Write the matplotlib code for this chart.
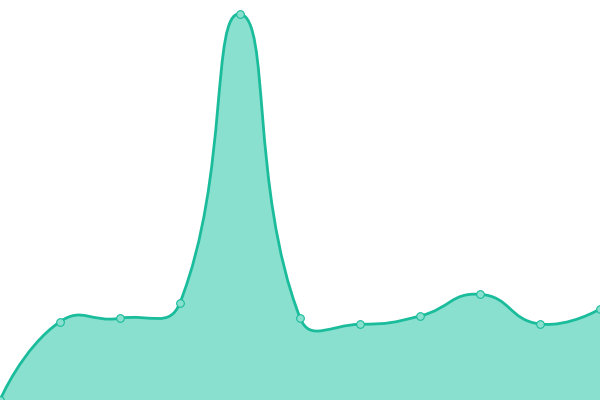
import matplotlib
matplotlib.use("Agg")
import matplotlib.pyplot as plt
import numpy as np
from matplotlib.path import Path
from matplotlib.patches import PathPatch

# category positions (no visible axis) and series values
categories = ["A", "B", "C", "D", "E", "F", "G", "H", "I", "J", "K"]
values = [0, 783, 817, 973, 3860, 823, 757, 840, 1057, 760, 910]

line_color = "#1abc9c"
fill_color = "#8ae0ce"
smooth = 0.5


def smooth_controls(pts, smooth):
    # bezier control points in the style of echarts' smooth line
    cps = []
    n = len(pts)
    for i in range(n):
        p = pts[i]
        if i == 0 or i == n - 1:
            cps.append(p.copy())
            continue
        prev, nxt = pts[i - 1], pts[i + 1]
        v = (nxt - prev) * smooth
        d0 = np.hypot(*(p - prev))
        d1 = np.hypot(*(p - nxt))
        s = d0 + d1
        if s:
            d0, d1 = d0 / s, d1 / s
        cps.append(p - v * d0)
        cps.append(p + v * d1)
    return cps


fig = plt.figure(figsize=(6, 4), dpi=100)
ax = fig.add_axes([0, 0, 1, 1])
ax.set_xlim(0, len(categories) - 1)
ax.set_ylim(0, 4000)
ax.axis("off")

x = np.arange(len(categories))
pts = ax.transData.transform(np.column_stack([x, values]))
cps = smooth_controls(pts, smooth)

verts = [pts[0]]
codes = [Path.MOVETO]
for i in range(len(pts) - 1):
    verts += [cps[2 * i], cps[2 * i + 1], pts[i + 1]]
    codes += [Path.CURVE4] * 3
inv = ax.transData.inverted()
data_verts = inv.transform(np.array(verts))

line_path = Path(data_verts, codes)
area_verts = np.vstack([data_verts, [[x[-1], 0], [x[0], 0], data_verts[0]]])
area_codes = codes + [Path.LINETO, Path.LINETO, Path.CLOSEPOLY]
ax.add_patch(PathPatch(Path(area_verts, area_codes), facecolor=fill_color,
                       edgecolor="none", zorder=1))
ax.add_patch(PathPatch(line_path, facecolor="none", edgecolor=line_color,
                       lw=2.0, zorder=2, capstyle="round", joinstyle="round"))
ax.plot(x, values, "o", ms=5.5, mfc=fill_color, mec=line_color, mew=0.8,
        zorder=3, clip_on=False)

fig.savefig("out.png", dpi=100, facecolor="white")
